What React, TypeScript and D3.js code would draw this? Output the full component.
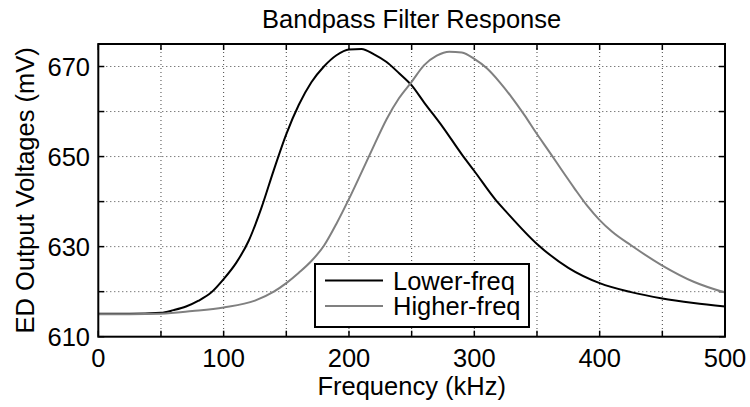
import React, { useEffect, useRef } from 'react'
import * as d3 from 'd3'

// Lower-freq filter: frequencies (kHz) and output (mV)
const lowerFreqs = [0, 25, 50, 60, 70, 80, 90, 100, 110, 120, 130, 140, 150, 160, 170, 180, 190, 200, 210, 220, 230, 240, 250, 260, 275, 290, 300, 317, 325, 350, 375, 400, 425, 450, 475, 500]
const lowerValues = [615.1, 615.1, 615.3, 615.9, 616.7, 618.0, 619.8, 622.8, 626.4, 631.3, 638.5, 647.0, 655.0, 661.5, 666.5, 670.0, 672.5, 673.8, 673.9, 672.7, 671.0, 668.5, 665.8, 662.0, 656.5, 650.5, 646.8, 640.4, 637.9, 630.6, 625.3, 621.9, 619.9, 618.5, 617.5, 616.7]

// Higher-freq filter: frequencies (kHz) and output (mV)
const higherFreqs = [0, 25, 50, 75, 100, 125, 140, 150, 160, 170, 180, 190, 200, 210, 220, 230, 240, 250, 260, 270, 280, 290, 300, 310, 320, 330, 340, 350, 360, 370, 380, 390, 400, 410, 425, 450, 475, 500]
const higherValues = [615.0, 615.0, 615.1, 615.7, 616.5, 618.0, 620.0, 621.9, 624.2, 626.8, 630.2, 635.1, 640.6, 646.5, 652.5, 658.3, 663.0, 666.6, 670.3, 672.4, 673.3, 673.1, 671.7, 669.6, 666.6, 663.1, 659.2, 655.0, 651.0, 646.9, 642.9, 639.1, 635.9, 633.3, 630.3, 625.8, 622.2, 619.8]

const xTicks = [0, 50, 100, 150, 200, 250, 300, 350, 400, 450, 500]
const xLabels = [0, 100, 200, 300, 400, 500]
const yTicks = [610, 620, 630, 640, 650, 660, 670]
const yLabels = [610, 630, 650, 670]

const seriesNames = ['Lower-freq', 'Higher-freq']
const seriesColors = ['#000000', '#808080']

export default function App() {
    const ref = useRef<SVGSVGElement>(null)

    useEffect(() => {
        var width = 750
        var height = 407
        var left = 98.3
        var right = 725
        var top = 44
        var bottom = 336.7
        var font = 'Arial, "Liberation Sans", Helvetica, sans-serif'
        var fontSize = '25.5px'

        var svg = d3.select(ref.current)
        svg.selectAll('*').remove()

        var xScale = d3.scaleLinear().domain([0, 500]).range([left, right])
        var yScale = d3.scaleLinear().domain([610, 675]).range([bottom, top])

        // White background
        svg.append('rect')
            .attr('width', width)
            .attr('height', height)
            .attr('fill', '#fff')

        // Grid
        var grid = svg.append('g')
            .attr('stroke', '#444')
            .attr('stroke-width', 1)
            .attr('stroke-dasharray', '1,3')
        xTicks.slice(1, -1).forEach(t => {
            grid.append('line')
                .attr('x1', xScale(t)).attr('x2', xScale(t))
                .attr('y1', top).attr('y2', bottom)
        })
        yTicks.slice(1).forEach(t => {
            grid.append('line')
                .attr('x1', left).attr('x2', right)
                .attr('y1', yScale(t)).attr('y2', yScale(t))
        })

        // Inward ticks on all four sides
        var ticks = svg.append('g')
            .attr('stroke', '#000')
            .attr('stroke-width', 1.5)
        var tl = 6
        xTicks.forEach(t => {
            var x = xScale(t)
            ticks.append('line').attr('x1', x).attr('x2', x).attr('y1', bottom).attr('y2', bottom - tl)
            ticks.append('line').attr('x1', x).attr('x2', x).attr('y1', top).attr('y2', top + tl)
        })
        yTicks.forEach(t => {
            var y = yScale(t)
            ticks.append('line').attr('x1', left).attr('x2', left + tl).attr('y1', y).attr('y2', y)
            ticks.append('line').attr('x1', right).attr('x2', right - tl).attr('y1', y).attr('y2', y)
        })

        // Curves
        var series = [
            { freqs: lowerFreqs, values: lowerValues },
            { freqs: higherFreqs, values: higherValues }
        ]
        series.forEach((s, i) => {
            var line = d3.line<number>()
                .x((d, j) => xScale(s.freqs[j]))
                .y(d => yScale(d))
                .curve(d3.curveMonotoneX)
            svg.append('path')
                .attr('d', line(s.values))
                .attr('fill', 'none')
                .attr('stroke', seriesColors[i])
                .attr('stroke-width', 2)
        })

        // Axes box
        svg.append('rect')
            .attr('x', left)
            .attr('y', top)
            .attr('width', right - left)
            .attr('height', bottom - top)
            .attr('fill', 'none')
            .attr('stroke', '#000')
            .attr('stroke-width', 2)

        // Tick labels
        xLabels.forEach(t => {
            svg.append('text')
                .text(t)
                .attr('x', xScale(t))
                .attr('y', 367)
                .attr('text-anchor', 'middle')
                .attr('font-family', font)
                .attr('font-size', fontSize)
                .attr('fill', '#000')
        })
        yLabels.forEach(t => {
            svg.append('text')
                .text(t)
                .attr('x', 90)
                .attr('y', yScale(t) + 9)
                .attr('text-anchor', 'end')
                .attr('font-family', font)
                .attr('font-size', fontSize)
                .attr('fill', '#000')
        })

        // Title
        svg.append('text')
            .text('Bandpass Filter Response')
            .attr('x', (left + right) / 2)
            .attr('y', 28)
            .attr('text-anchor', 'middle')
            .attr('font-family', font)
            .attr('font-size', fontSize)
            .attr('fill', '#000')

        // X axis label
        svg.append('text')
            .text('Frequency (kHz)')
            .attr('x', (left + right) / 2)
            .attr('y', 395)
            .attr('text-anchor', 'middle')
            .attr('font-family', font)
            .attr('font-size', fontSize)
            .attr('fill', '#000')

        // Y axis label
        svg.append('text')
            .text('ED Output Voltages (mV)')
            .attr('transform', `translate(34,${(top + bottom) / 2}) rotate(-90)`)
            .attr('text-anchor', 'middle')
            .attr('font-family', font)
            .attr('font-size', fontSize)
            .attr('fill', '#000')

        // Legend
        var legend = svg.append('g')
        legend.append('rect')
            .attr('x', 315)
            .attr('y', 264)
            .attr('width', 214)
            .attr('height', 63)
            .attr('fill', '#fff')
            .attr('stroke', '#000')
            .attr('stroke-width', 2)
        seriesNames.forEach((name, i) => {
            var y = 280.5 + i * 25.5
            legend.append('line')
                .attr('x1', 325).attr('x2', 383)
                .attr('y1', y).attr('y2', y)
                .attr('stroke', seriesColors[i])
                .attr('stroke-width', 2)
            legend.append('text')
                .text(name)
                .attr('x', 393)
                .attr('y', y + 9)
                .attr('font-family', font)
                .attr('font-size', fontSize)
                .attr('fill', '#000')
        })
    }, [])

    return (
        <svg ref={ref} width={750} height={407}
            style={{ position: 'absolute', left: 0, top: 0, display: 'block' }} />
    )
}
